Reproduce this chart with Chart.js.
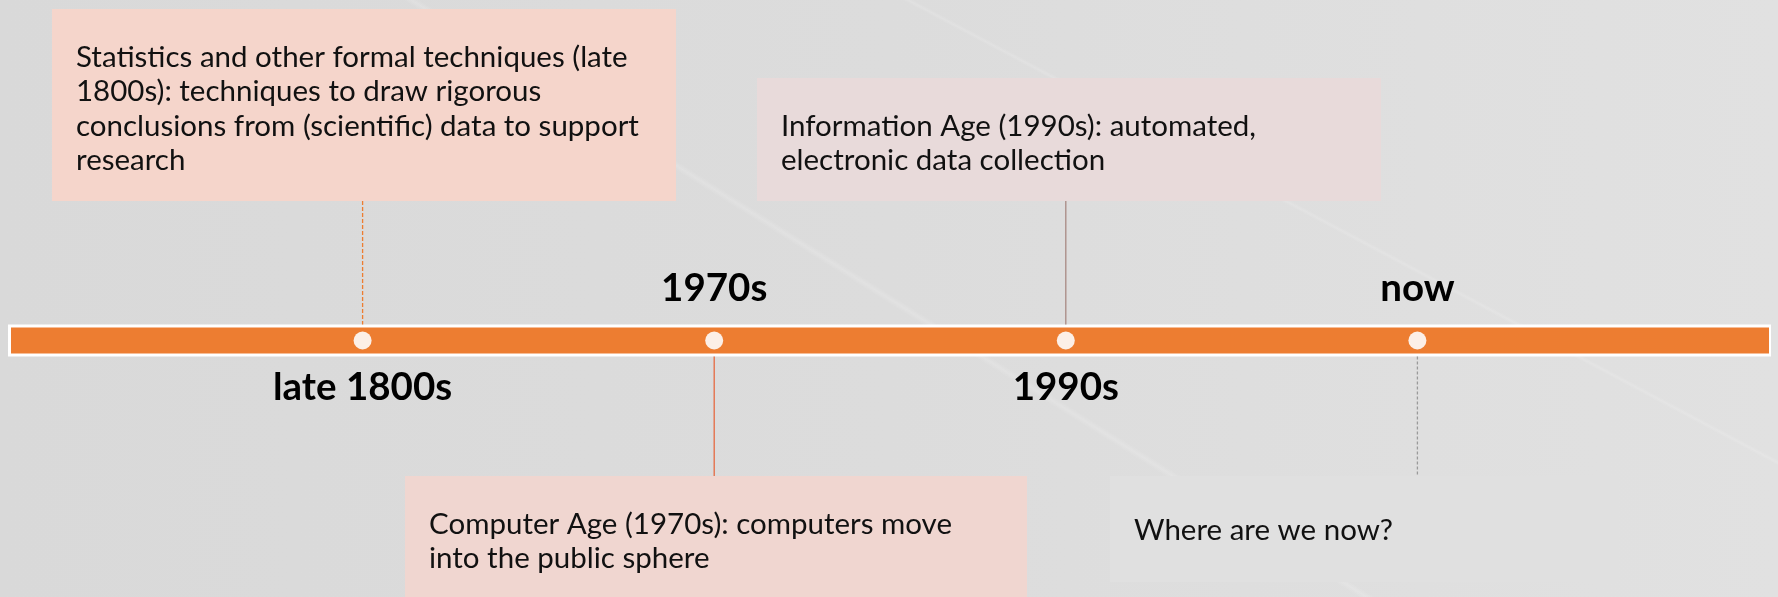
<!DOCTYPE html>
<html lang="en">
<head>
    <meta charset="UTF-8">
    <title>Timeline</title>
    <style>
        html, body { margin: 0; padding: 0; }
        body {
            width: 1778px; height: 597px; overflow: hidden;
            background:
                linear-gradient(32deg, transparent 49.7%, rgba(255,255,255,0.16) 50%, transparent 50.3%),
                linear-gradient(28deg, transparent 69.8%, rgba(255,255,255,0.14) 70%, transparent 70.2%),
                linear-gradient(90deg, #d9d9d9 0%, #dcdcdc 50%, #e1e1e1 100%);
        }
        #wrap { position: relative; width: 1778px; height: 597px; }
    </style>
</head>
<body>
    <div id="wrap"><canvas id="timeline"></canvas></div>

    <script src="https://cdn.jsdelivr.net/npm/chart.js"></script>
    <script>
        // timeline data
        const eras = ['late 1800s', '1970s', '1990s', 'now'];
        const eraPositions = [1, 2, 3, 4];
        const timelineSpan = [0, 5];
        const descriptions = [
            ['Statistics and other formal techniques (late', '1800s): techniques to draw rigorous', 'conclusions from (scientific) data to support', 'research'],
            ['Computer Age (1970s): computers move', 'into the public sphere'],
            ['Information Age (1990s): automated,', 'electronic data collection'],
            ['Where are we now?']
        ];

        // layout / styles
        const labelAbove = [false, true, false, true];
        const boxes = [
            { x: 52, y: 9, w: 624, h: 192, fill: '#f5d5cb', line: '#ed7d31', dash: [4, 2] },
            { x: 405, y: 476, w: 622, h: 121, fill: '#f0d6d0', line: '#e56a42', dash: [] },
            { x: 757, y: 78, w: 624, h: 123, fill: '#e8dada', line: '#a98a84', dash: [] },
            { x: 1110, y: 476, w: 508, h: 106, fill: '#e0e0e0', line: '#9a9a9a', dash: [3, 2] }
        ];
        const orange = '#ed7d31';
        const textFont = '29.5px Lato, "Open Sans", sans-serif';
        const labelFont = 'bold 38.5px Lato, "Open Sans", sans-serif';

        const timelinePlugin = {
            id: 'timelineDecor',
            beforeDatasetsDraw(chart) {
                const ctx = chart.ctx;
                const xs = chart.scales.x, ys = chart.scales.y;
                const y0 = ys.getPixelForValue(0);
                const x0 = xs.getPixelForValue(timelineSpan[0]);
                const x1 = xs.getPixelForValue(timelineSpan[1]);
                ctx.save();
                // white outline of the bar
                ctx.fillStyle = '#ffffff';
                ctx.fillRect(x0 - 3, y0 - 16, x1 - x0 + 5, 32);
                ctx.restore();
            },
            afterDatasetsDraw(chart) {
                const ctx = chart.ctx;
                const xs = chart.scales.x, ys = chart.scales.y;
                const y0 = ys.getPixelForValue(0);
                ctx.save();
                eraPositions.forEach((pos, i) => {
                    const px = xs.getPixelForValue(pos);
                    const b = boxes[i];
                    // connector
                    ctx.strokeStyle = b.line;
                    ctx.lineWidth = 1.3;
                    ctx.setLineDash(b.dash);
                    ctx.beginPath();
                    if (b.y < y0) {
                        ctx.moveTo(px, b.y + b.h);
                        ctx.lineTo(px, y0 - 16);
                    } else {
                        ctx.moveTo(px, y0 + 16);
                        ctx.lineTo(px, b.y);
                    }
                    ctx.stroke();
                    ctx.setLineDash([]);
                    // box
                    ctx.fillStyle = b.fill;
                    ctx.fillRect(b.x, b.y, b.w, b.h);
                    // box text
                    ctx.fillStyle = '#111111';
                    ctx.font = textFont;
                    ctx.textAlign = 'left';
                    ctx.textBaseline = 'middle';
                    const lines = descriptions[i];
                    const first = lines.length === 1 ? b.y + 54 : b.y + 48;
                    lines.forEach((t, k) => ctx.fillText(t, b.x + 24, first + k * 34.5));
                    // era label
                    ctx.fillStyle = '#000000';
                    ctx.font = labelFont;
                    ctx.textAlign = 'center';
                    ctx.fillText(eras[i], px, labelAbove[i] ? y0 - 52 : y0 + 47);
                });
                ctx.restore();
            }
        };

        function createTimeline() {
            const ctx = document.getElementById('timeline').getContext('2d');
            new Chart(ctx, {
                type: 'scatter',
                data: {
                    datasets: [
                        {
                            type: 'line',
                            data: eraPositions.map(p => ({ x: p, y: 0 })),
                            pointRadius: 9,
                            pointBackgroundColor: '#fcefe7',
                            pointBorderWidth: 0,
                            showLine: false,
                            order: 0
                        },
                        {
                            type: 'line',
                            data: timelineSpan.map(p => ({ x: p, y: 0 })),
                            borderColor: orange,
                            borderWidth: 26,
                            borderCapStyle: 'butt',
                            pointRadius: 0,
                            order: 1
                        }
                    ]
                },
                options: {
                    responsive: false,
                    animation: false,
                    events: [],
                    layout: { padding: { left: 11, right: 4, top: 93, bottom: 0 } },
                    plugins: { legend: { display: false }, tooltip: { enabled: false } },
                    scales: {
                        x: { type: 'linear', min: timelineSpan[0], max: timelineSpan[1], display: false },
                        y: { min: -1, max: 1, display: false }
                    }
                },
                plugins: [timelinePlugin]
            });
        }

        const cv = document.getElementById('timeline');
        cv.width = 1778;
        cv.height = 597;
        window.onload = createTimeline;
    </script>
</body>
</html>
